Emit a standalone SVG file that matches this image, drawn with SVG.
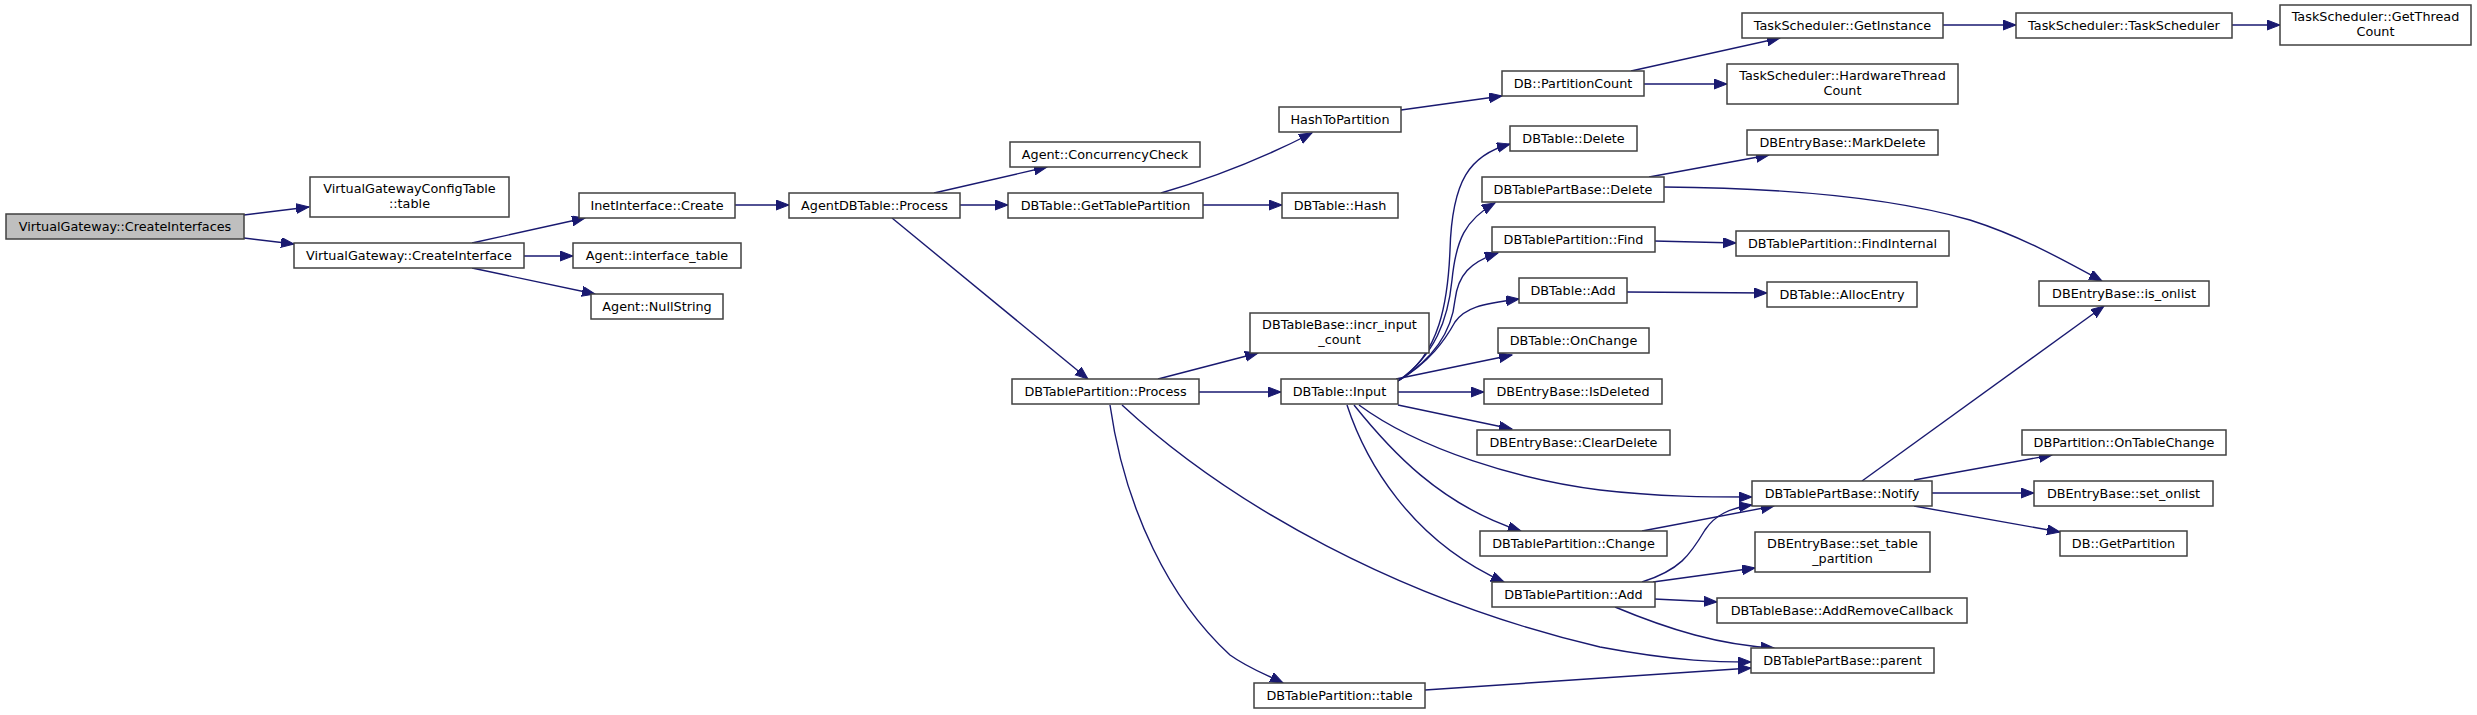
<svg xmlns="http://www.w3.org/2000/svg" width="2477" height="715" viewBox="0 0 2477 715">
<style>
.n rect{fill:#ffffff;stroke:#404040;stroke-width:1.5}
.n.root rect{fill:#bfbfbf}
.n text{font-family:"DejaVu Sans",sans-serif;font-size:12.8px;fill:#000;text-anchor:middle}
.e path{fill:none;stroke:#191970;stroke-width:1.4;marker-end:url(#ah)}
</style>
<defs>
<marker id="ah" markerUnits="userSpaceOnUse" markerWidth="15" markerHeight="12" refX="13" refY="5" orient="auto">
<path d="M0,0 L13,5 L0,10 z" fill="#191970" stroke="#191970" stroke-width="1"/>
</marker>
</defs>
<rect width="2477" height="715" fill="#ffffff"/>
<g class="e" id="edges">
<path d="M244,215 L309,207"/>
<path d="M244,238 L294,244"/>
<path d="M472,243 L585,218"/>
<path d="M524,256 L573,256"/>
<path d="M472,268 L595,294"/>
<path d="M735,205 L789,205"/>
<path d="M934,193 L1047,167"/>
<path d="M960,205 L1008,205"/>
<path d="M892,218 L1088,379"/>
<path d="M1161,193 Q1240,170 1312,133"/>
<path d="M1203,205 L1282,205"/>
<path d="M1401,110 L1502,96"/>
<path d="M1631,71 L1780,38"/>
<path d="M1644,84 L1727,84"/>
<path d="M1943,25 L2016,25"/>
<path d="M2232,25 L2280,25"/>
<path d="M1158,379 L1258,353"/>
<path d="M1199,392 L1281,392"/>
<path d="M1122,405 C1230,505 1400,600 1600,647 C1680,662 1720,662 1751,662"/>
<path d="M1110,405 C1125,510 1170,600 1230,655 C1248,668 1265,674 1283,683"/>
<path d="M1425,690 L1751,668"/>
<path d="M1398,381 C1440,355 1448,300 1450,250 C1452,180 1470,155 1510,144"/>
<path d="M1398,381 C1435,355 1448,320 1452,280 C1456,240 1465,220 1495,203"/>
<path d="M1398,381 C1435,358 1452,330 1455,300 C1458,275 1470,262 1498,253"/>
<path d="M1398,381 C1430,362 1445,340 1455,322 C1465,308 1480,304 1519,299"/>
<path d="M1396,379 L1512,355"/>
<path d="M1398,392 L1484,392"/>
<path d="M1398,405 L1512,429"/>
<path d="M1359,405 C1420,450 1520,480 1600,490 C1660,497 1710,497 1752,497"/>
<path d="M1354,405 C1390,450 1440,505 1521,531"/>
<path d="M1347,405 C1365,460 1410,540 1504,582"/>
<path d="M1642,531 L1774,506"/>
<path d="M1642,582 C1680,570 1690,555 1705,530 C1715,515 1730,508 1752,505"/>
<path d="M1653,582 L1755,568"/>
<path d="M1654,599 L1717,602"/>
<path d="M1615,607 C1670,630 1720,645 1774,648"/>
<path d="M1649,177 L1769,155"/>
<path d="M1664,187 C1800,188 1900,200 1970,220 C2020,236 2060,258 2102,281"/>
<path d="M1654,241 L1736,243"/>
<path d="M1627,292 L1767,293"/>
<path d="M1862,481 L2104,306"/>
<path d="M1914,480 L2052,455"/>
<path d="M1932,493 L2034,493"/>
<path d="M1914,506 L2060,532"/>
</g>
<g class="n root" id="n1"><rect x="6" y="214" width="238" height="25"/><text x="125" y="230.5">VirtualGateway::CreateInterfaces</text></g>
<g class="n" id="n2"><rect x="310" y="177" width="199" height="40"/><text x="409.5" y="193">VirtualGatewayConfigTable</text><text x="409.5" y="208">::table</text></g>
<g class="n" id="n3"><rect x="294" y="243" width="230" height="25"/><text x="409" y="260">VirtualGateway::CreateInterface</text></g>
<g class="n" id="n4"><rect x="579" y="193" width="156" height="25"/><text x="657" y="210">InetInterface::Create</text></g>
<g class="n" id="n5"><rect x="573" y="243" width="168" height="25"/><text x="657" y="260">Agent::interface_table</text></g>
<g class="n" id="n6"><rect x="591" y="294" width="132" height="25"/><text x="657" y="311">Agent::NullString</text></g>
<g class="n" id="n7"><rect x="789" y="193" width="171" height="25"/><text x="874.5" y="210">AgentDBTable::Process</text></g>
<g class="n" id="n8"><rect x="1010" y="142" width="190" height="25"/><text x="1105" y="159">Agent::ConcurrencyCheck</text></g>
<g class="n" id="n9"><rect x="1008" y="193" width="195" height="25"/><text x="1105.5" y="210">DBTable::GetTablePartition</text></g>
<g class="n" id="n10"><rect x="1012" y="379" width="187" height="25"/><text x="1105.5" y="396">DBTablePartition::Process</text></g>
<g class="n" id="n11"><rect x="1279" y="107" width="122" height="25"/><text x="1340" y="124">HashToPartition</text></g>
<g class="n" id="n12"><rect x="1282" y="193" width="116" height="25"/><text x="1340" y="210">DBTable::Hash</text></g>
<g class="n" id="n13"><rect x="1502" y="71" width="142" height="25"/><text x="1573" y="88">DB::PartitionCount</text></g>
<g class="n" id="n14"><rect x="1742" y="13" width="201" height="25"/><text x="1842.5" y="30">TaskScheduler::GetInstance</text></g>
<g class="n" id="n15"><rect x="1727" y="64" width="231" height="40"/><text x="1842.5" y="80">TaskScheduler::HardwareThread</text><text x="1842.5" y="95">Count</text></g>
<g class="n" id="n16"><rect x="1510" y="126" width="127" height="25"/><text x="1573.5" y="143">DBTable::Delete</text></g>
<g class="n" id="n17"><rect x="1482" y="177" width="182" height="25"/><text x="1573" y="194">DBTablePartBase::Delete</text></g>
<g class="n" id="n18"><rect x="1747" y="130" width="191" height="25"/><text x="1842.5" y="147">DBEntryBase::MarkDelete</text></g>
<g class="n" id="n19"><rect x="1492" y="227" width="163" height="25"/><text x="1573.5" y="244">DBTablePartition::Find</text></g>
<g class="n" id="n20"><rect x="1736" y="231" width="213" height="25"/><text x="1842.5" y="248">DBTablePartition::FindInternal</text></g>
<g class="n" id="n21"><rect x="1519" y="278" width="108" height="25"/><text x="1573" y="295">DBTable::Add</text></g>
<g class="n" id="n22"><rect x="1767" y="282" width="150" height="25"/><text x="1842" y="299">DBTable::AllocEntry</text></g>
<g class="n" id="n23"><rect x="1250" y="313" width="179" height="40"/><text x="1339.5" y="329">DBTableBase::incr_input</text><text x="1339.5" y="344">_count</text></g>
<g class="n" id="n24"><rect x="1498" y="328" width="151" height="25"/><text x="1573.5" y="345">DBTable::OnChange</text></g>
<g class="n" id="n25"><rect x="1281" y="379" width="117" height="25"/><text x="1339.5" y="396">DBTable::Input</text></g>
<g class="n" id="n26"><rect x="1484" y="379" width="178" height="25"/><text x="1573" y="396">DBEntryBase::IsDeleted</text></g>
<g class="n" id="n27"><rect x="1477" y="430" width="193" height="25"/><text x="1573.5" y="447">DBEntryBase::ClearDelete</text></g>
<g class="n" id="n28"><rect x="1752" y="481" width="180" height="25"/><text x="1842" y="498">DBTablePartBase::Notify</text></g>
<g class="n" id="n29"><rect x="1480" y="531" width="187" height="25"/><text x="1573.5" y="548">DBTablePartition::Change</text></g>
<g class="n" id="n30"><rect x="1755" y="532" width="175" height="40"/><text x="1842.5" y="548">DBEntryBase::set_table</text><text x="1842.5" y="563">_partition</text></g>
<g class="n" id="n31"><rect x="1492" y="582" width="163" height="25"/><text x="1573.5" y="599">DBTablePartition::Add</text></g>
<g class="n" id="n32"><rect x="1717" y="598" width="250" height="25"/><text x="1842" y="615">DBTableBase::AddRemoveCallback</text></g>
<g class="n" id="n33"><rect x="1751" y="648" width="183" height="25"/><text x="1842.5" y="665">DBTablePartBase::parent</text></g>
<g class="n" id="n34"><rect x="1254" y="683" width="171" height="25"/><text x="1339.5" y="700">DBTablePartition::table</text></g>
<g class="n" id="n35"><rect x="2016" y="13" width="216" height="25"/><text x="2124" y="30">TaskScheduler::TaskScheduler</text></g>
<g class="n" id="n36"><rect x="2280" y="5" width="191" height="40"/><text x="2375.5" y="21">TaskScheduler::GetThread</text><text x="2375.5" y="36">Count</text></g>
<g class="n" id="n37"><rect x="2039" y="281" width="170" height="25"/><text x="2124" y="298">DBEntryBase::is_onlist</text></g>
<g class="n" id="n38"><rect x="2022" y="430" width="204" height="25"/><text x="2124" y="447">DBPartition::OnTableChange</text></g>
<g class="n" id="n39"><rect x="2034" y="481" width="179" height="25"/><text x="2123.5" y="498">DBEntryBase::set_onlist</text></g>
<g class="n" id="n40"><rect x="2060" y="531" width="127" height="25"/><text x="2123.5" y="548">DB::GetPartition</text></g>
</svg>
